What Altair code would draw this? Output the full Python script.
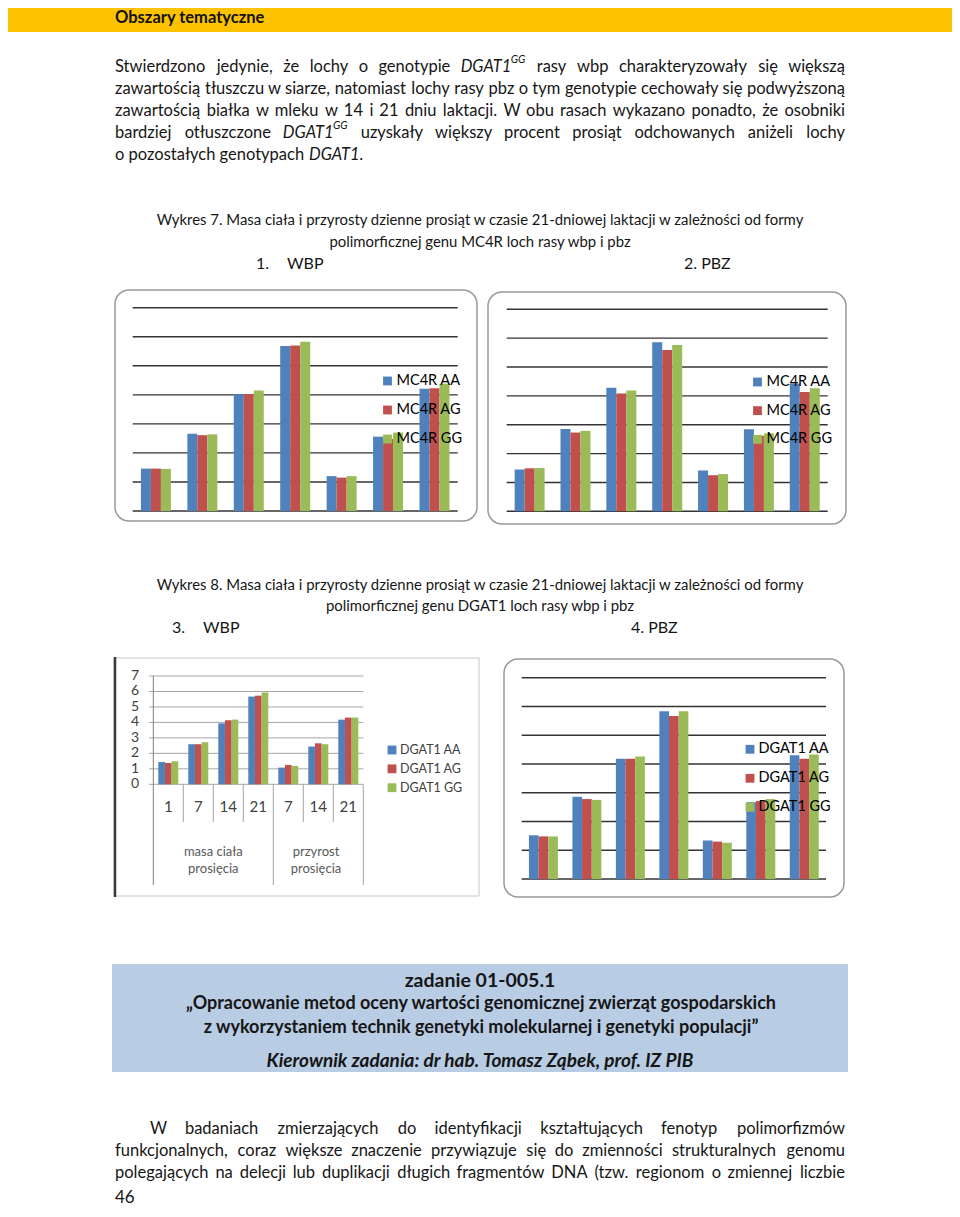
import altair as alt
import pandas as pd

FONT = "Lato"
M = 8                      # page margin
TXT = "#161616"

# ------------------------------------------------------------------ data
group_keys = ["g1", "g2", "g3", "g4", "g5", "g6", "g7"]
day_labels = ["1", "7", "14", "21", "7", "14", "21"]
group_titles = [["masa ciała", "prosięcia"], ["przyrost", "prosięcia"]]
y_ticks = [0, 1, 2, 3, 4, 5, 6, 7]

mc4r_genotypes = ["MC4R AA", "MC4R AG", "MC4R GG"]
dgat1_genotypes = ["DGAT1 AA", "DGAT1 AG", "DGAT1 GG"]
bar_colors = ["#4F81BD", "#C0504D", "#9BBB59"]

# Wykres 7 - 1. WBP (MC4R)
wbp_mc4r_aa = [1.46, 2.66, 4.02, 5.68, 1.20, 2.56, 4.21]
wbp_mc4r_ag = [1.46, 2.61, 4.03, 5.70, 1.15, 2.48, 4.23]
wbp_mc4r_gg = [1.45, 2.64, 4.15, 5.83, 1.20, 2.70, 4.38]
# Wykres 7 - 2. PBZ (MC4R)
pbz_mc4r_aa = [1.45, 2.85, 4.28, 5.86, 1.41, 2.84, 4.43]
pbz_mc4r_ag = [1.49, 2.73, 4.08, 5.59, 1.25, 2.62, 4.13]
pbz_mc4r_gg = [1.50, 2.79, 4.19, 5.76, 1.29, 2.70, 4.26]
# Wykres 8 - 3. WBP (DGAT1)
wbp_dgat1_aa = [1.44, 2.59, 3.94, 5.67, 1.08, 2.44, 4.18]
wbp_dgat1_ag = [1.38, 2.59, 4.14, 5.73, 1.25, 2.65, 4.31]
wbp_dgat1_gg = [1.49, 2.72, 4.18, 5.93, 1.19, 2.59, 4.31]
# Wykres 8 - 4. PBZ (DGAT1)
pbz_dgat1_aa = [1.52, 2.86, 4.18, 5.83, 1.34, 2.67, 4.30]
pbz_dgat1_ag = [1.48, 2.78, 4.18, 5.67, 1.30, 2.71, 4.18]
pbz_dgat1_gg = [1.48, 2.75, 4.26, 5.83, 1.26, 2.78, 4.33]

# ------------------------------------------------------------------ texts
header_text = "Obszary tematyczne"
para1_lines = [
    "Stwierdzono jedynie, że lochy o genotypie ~DGAT1^GG rasy wbp charakteryzowały się większą",
    "zawartością tłuszczu w siarze, natomiast lochy rasy pbz o tym genotypie cechowały się podwyższoną",
    "zawartością białka w mleku w 14 i 21 dniu laktacji. W obu rasach wykazano ponadto, że osobniki",
    "bardziej otłuszczone ~DGAT1^GG uzyskały większy procent prosiąt odchowanych aniżeli lochy",
]
para1_last = ["o pozostałych genotypach", "DGAT1."]
cap7 = ["Wykres 7. Masa ciała i przyrosty dzienne prosiąt w czasie 21-dniowej laktacji w zależności od formy",
        "polimorficznej genu MC4R loch rasy wbp i pbz"]
cap8 = ["Wykres 8.  Masa ciała i przyrosty dzienne prosiąt w czasie 21-dniowej laktacji w zależności od formy",
        "polimorficznej genu DGAT1 loch rasy wbp i pbz"]
box_lines = ["zadanie  01-005.1",
             "„Opracowanie metod oceny wartości genomicznej zwierząt gospodarskich",
             "z wykorzystaniem technik genetyki molekularnej i genetyki populacji”",
             "Kierownik zadania:  dr hab. Tomasz Ząbek, prof. IZ PIB"]
para2_lines = [
    "W badaniach zmierzających do identyfikacji kształtujących fenotyp polimorfizmów",
    "funkcjonalnych, coraz większe znaczenie przywiązuje się do zmienności strukturalnych genomu",
    "polegających na delecji lub duplikacji długich fragmentów DNA (tzw. regionom o zmiennej liczbie",
]
page_number = "46"

# ------------------------------------------------------------------ helpers
WID = {}
for ch, w in zip("abcdefghijklmnopqrstuvwxyz",
                 [.50, .55, .45, .55, .51, .31, .49, .55, .24, .24, .49, .24, .83,
                  .55, .55, .55, .55, .36, .41, .34, .55, .50, .76, .48, .50, .44]):
    WID[ch] = w
for ch, w in zip("ąęóśłżźćń", [.50, .51, .55, .41, .28, .44, .44, .45, .55]):
    WID[ch] = w
for ch, w in zip("ABCDEFGHIJKLMNOPQRSTUVWXYZ",
                 [.68, .63, .66, .73, .57, .54, .71, .74, .28, .38, .64, .50, .88,
                  .75, .78, .60, .78, .62, .53, .58, .72, .67, .99, .64, .61, .60]):
    WID[ch] = w
for ch in "0123456789":
    WID[ch] = .58
WID.update({",": .22, ".": .22, "(": .30, ")": .30, "-": .33, ":": .22})
EST_SCALE = 1.03


def est(s):
    return EST_SCALE * sum(WID.get(c, .5) for c in s)


def parts(tok):
    italic = tok.startswith("~")
    if italic:
        tok = tok[1:]
    sup = ""
    if "^" in tok:
        tok, sup = tok.split("^")
    return tok, sup, italic


def layout(line, x0, x1, y, size):
    items = []
    toks = line.split(" ")
    ps = [parts(t) for t in toks]
    widths = [est(b) * size * (0.9 if s else 1) + (est(s) * size * 0.65 if s else 0) for b, s, _ in ps]
    n = len(toks)
    gap = (x1 - x0 - sum(widths)) / (n - 1)
    x = x0
    for i, ((b, s, it), w) in enumerate(zip(ps, widths)):
        style = "italic" if it else "normal"
        if i == n - 1 and not s:
            items.append(dict(x=x1, y=y, text=b, size=size, style=style, align="right"))
        else:
            items.append(dict(x=x, y=y, text=b, size=size, style=style, align="left"))
            if s:
                items.append(dict(x=x + est(b) * size * 0.9, y=y - 7, text=s,
                                  size=round(size * 0.65, 1), style="italic", align="left"))
        x += w + gap
    return items


def text_layers(items, color=TXT):
    out = []
    keys = sorted({(i["size"], i["style"], i["align"]) for i in items})
    for size, style, align in keys:
        sel = [i for i in items if (i["size"], i["style"], i["align"]) == (size, style, align)]
        df = pd.DataFrame({"x": [i["x"] - M for i in sel], "y": [i["y"] - M for i in sel],
                           "text": [i["text"] for i in sel]})
        out.append(alt.Chart(df).mark_text(align=align, baseline="middle", font=FONT, fontSize=size,
                                           fontStyle=style, color=color)
                   .encode(x=alt.X("x:Q", scale=None, axis=None),
                           y=alt.Y("y:Q", scale=None, axis=None), text="text:N"))
    return out


ONE = pd.DataFrame({"k": [0]})


def rect(x0, x1, y0, y1, **kw):
    return alt.Chart(ONE).mark_rect(**kw).encode(
        x=alt.value(x0 - M), x2=alt.value(x1 - M), y=alt.value(y0 - M), y2=alt.value(y1 - M))


def rule(x0, x1, y0, y1, **kw):
    return alt.Chart(ONE).mark_rule(**kw).encode(
        x=alt.value(x0 - M), x2=alt.value(x1 - M), y=alt.value(y0 - M), y2=alt.value(y1 - M))


def label(s, x, y, size, align="left", weight="normal", style="normal", color=TXT):
    return alt.Chart(ONE).mark_text(text=s, align=align, baseline="middle", font=FONT, fontSize=size,
                                    fontWeight=weight, fontStyle=style, color=color).encode(
        x=alt.value(x - M), y=alt.value(y - M))


def long_df(genos, series):
    rows = []
    for g, vals in zip(genos, series):
        for k, v in zip(group_keys, vals):
            rows.append({"key": k, "genotype": g, "value": v})
    return pd.DataFrame(rows)


def panel(genos, series, xr, yr, pad_inner, off_outer, grid_color, grid_w, grid_x0,
          leg_x, leg_y, leg_size, leg_color, leg_dx):
    df = long_df(genos, series)
    xs = alt.Scale(domain=group_keys, range=[xr[0] - M, xr[1] - M],
                   paddingInner=pad_inner, paddingOuter=pad_inner / 2)
    ys = alt.Scale(domain=[0, 7], range=[yr[0] - M, yr[1] - M], nice=False, zero=True)
    cs = alt.Scale(domain=genos, range=bar_colors)
    grid = alt.Chart(pd.DataFrame({"t": y_ticks})).mark_rule(color=grid_color, strokeWidth=grid_w).encode(
        y=alt.Y("t:Q", scale=ys, axis=None), x=alt.value(grid_x0 - M), x2=alt.value(xr[1] - M))
    bars = alt.Chart(df).mark_bar().encode(
        x=alt.X("key:N", scale=xs, axis=None, sort=group_keys),
        xOffset=alt.XOffset("genotype:N", sort=genos,
                            scale=alt.Scale(domain=genos, paddingInner=0, paddingOuter=off_outer)),
        y=alt.Y("value:Q", scale=ys, axis=None),
        color=alt.Color("genotype:N", scale=cs, legend=None))
    ldf = pd.DataFrame({"genotype": genos})
    lys = alt.Scale(type="point", domain=genos, range=[leg_y[0] - M, leg_y[1] - M], padding=0)
    sq = alt.Chart(ldf).mark_square(size=78, opacity=1).encode(
        x=alt.value(leg_x - M), y=alt.Y("genotype:N", scale=lys, axis=None),
        color=alt.Color("genotype:N", scale=cs, legend=None))
    lt = alt.Chart(ldf).mark_text(align="left", baseline="middle", font=FONT, fontSize=leg_size,
                                  color=leg_color).encode(
        x=alt.value(leg_x + leg_dx - M), y=alt.Y("genotype:N", scale=lys, axis=None), text="genotype:N")
    return grid, bars, sq, lt, xs, ys


PARA = 16.5
CAP = 14.9

layers = []

# header band
layers.append(rect(0, 960, 0, 32, fill="#FDC300"))
layers.append(label(header_text, 115, 18, 16.5, weight="bold", color="#111"))

# paragraph 1
items = []
for i, ln in enumerate(para1_lines):
    items += layout(ln, 115, 845, 67 + 22 * i, PARA)
layers += text_layers(items)
layers.append(label(para1_last[0], 115, 155, PARA))
layers.append(label(para1_last[1], 309, 155, PARA, style="italic"))

# captions Wykres 7
layers.append(label(cap7[0], 480, 221, CAP, align="center"))
layers.append(label(cap7[1], 480, 243, CAP, align="center"))
layers.append(label("1.", 256, 264, 16))
layers.append(label("WBP", 287, 264, 16))
layers.append(label("2. PBZ", 684, 264, 16))

# captions Wykres 8
layers.append(label(cap8[0], 480, 586, CAP, align="center"))
layers.append(label(cap8[1], 480, 607, CAP, align="center"))
layers.append(label("3.", 172, 628, 16))
layers.append(label("WBP", 203, 628, 16))
layers.append(label("4. PBZ", 631, 628, 16))

# chart frames
layers.append(rect(115, 477, 290, 521, fill="white", stroke="#9A9A9A", strokeWidth=1.5, cornerRadius=14))
layers.append(rect(488, 846, 292, 524, fill="white", stroke="#9A9A9A", strokeWidth=1.5, cornerRadius=14))
layers.append(rect(504, 844, 659, 897, fill="white", stroke="#9A9A9A", strokeWidth=1.5, cornerRadius=14))
layers.append(rect(114, 479, 658, 896, fill="white", stroke="#C8C8C8", strokeWidth=1))
layers.append(rule(115, 115, 657, 897, color="#3A3A3A", strokeWidth=2.5))

# chart 1: WBP MC4R
g, b, s, t, _, _ = panel(mc4r_genotypes, [wbp_mc4r_aa, wbp_mc4r_ag, wbp_mc4r_gg],
                         (132.7, 457.7), (511, 307.7), 0.354, 0, "#333333", 1.4, 132.7,
                         387.5, (381, 439), 14.5, "#000", 9)
layers += [g, b]
chart1_leg = [s, t]

# chart 2: PBZ MC4R
g, b, s, t, _, _ = panel(mc4r_genotypes, [pbz_mc4r_aa, pbz_mc4r_ag, pbz_mc4r_gg],
                         (506.7, 827.7), (511.3, 309.3), 0.346, 0, "#333333", 1.4, 506.7,
                         757.5, (382, 439.3), 14.5, "#000", 9)
layers += [g, b]
chart2_leg = [s, t]

# chart 4: PBZ DGAT1
g, b, s, t, _, _ = panel(dgat1_genotypes, [pbz_dgat1_aa, pbz_dgat1_ag, pbz_dgat1_gg],
                         (521.7, 826), (879, 677.7), 0.333, 0, "#333333", 1.4, 521.7,
                         750, (749.3, 807.3), 14.5, "#000", 8.5)
layers += [g, b]
chart4_leg = [s, t]

# chart 3: WBP DGAT1 (pasted-image style with axes)
g, b, s, t, xs3, ys3 = panel(dgat1_genotypes, [wbp_dgat1_aa, wbp_dgat1_ag, wbp_dgat1_gg],
                             (153.3, 363.3), (784.3, 676), 0.0, 0.75, "#A6A6A6", 1, 149,
                             392, (750, 787.7), 12.5, "#404040", 8)
layers += [g]
ticks_df = pd.DataFrame({"t": y_ticks, "lab": [str(v) for v in y_ticks]})
layers.append(alt.Chart(ticks_df).mark_text(align="center", baseline="middle", font=FONT, fontSize=14,
                                            color="#404040").encode(
    x=alt.value(135 - M), y=alt.Y("t:Q", scale=ys3, axis=None), text="lab:N"))
layers.append(b)
cat_df = pd.DataFrame({"key": group_keys, "lab": day_labels})
layers.append(alt.Chart(cat_df).mark_text(baseline="middle", font=FONT, fontSize=15, color="#404040").encode(
    x=alt.X("key:N", scale=xs3, axis=None, sort=group_keys), y=alt.value(807 - M), text="lab:N"))
inner_df = pd.DataFrame({"key": ["g2", "g3", "g4", "g6", "g7"]})
layers.append(alt.Chart(inner_df).mark_rule(color="#A6A6A6", strokeWidth=1).encode(
    x=alt.X("key:N", scale=xs3, axis=None, sort=group_keys, bandPosition=0),
    y=alt.value(784.3 - M), y2=alt.value(822 - M)))
outer_df = pd.DataFrame({"key": ["g5"]})
layers.append(alt.Chart(outer_df).mark_rule(color="#A6A6A6", strokeWidth=1).encode(
    x=alt.X("key:N", scale=xs3, axis=None, sort=group_keys, bandPosition=0),
    y=alt.value(784.3 - M), y2=alt.value(885 - M)))
end_df = pd.DataFrame({"key": ["g7"]})
layers.append(alt.Chart(end_df).mark_rule(color="#A6A6A6", strokeWidth=1).encode(
    x=alt.X("key:N", scale=xs3, axis=None, sort=group_keys, bandPosition=1),
    y=alt.value(784.3 - M), y2=alt.value(885 - M)))
layers.append(rule(153.3, 153.3, 676, 885, color="#808080", strokeWidth=1))
layers.append(label(group_titles[0][0], 213.3, 852, 13, align="center", color="#595959"))
layers.append(label(group_titles[0][1], 213.3, 869, 13, align="center", color="#595959"))
layers.append(label(group_titles[1][0], 316, 852, 13, align="center", color="#595959"))
layers.append(label(group_titles[1][1], 316, 869, 13, align="center", color="#595959"))
layers += [s, t]

layers += chart1_leg + chart2_leg + chart4_leg

# blue task box
layers.append(rect(112, 848, 964, 1072, fill="#B8CCE4"))
layers.append(label(box_lines[0], 480, 981, 19.5, align="center", weight="bold"))
layers.append(label(box_lines[1], 481, 1004, 18, align="center", weight="bold"))
layers.append(label(box_lines[2], 481, 1028, 18, align="center", weight="bold"))
layers.append(label(box_lines[3], 480, 1061, 19, align="center", weight="bold", style="italic"))

# paragraph 2
items = []
items += layout(para2_lines[0], 150, 845, 1129, PARA)
items += layout(para2_lines[1], 115, 845, 1151, PARA)
items += layout(para2_lines[2], 115, 845, 1173, PARA)
layers += text_layers(items)
layers.append(label(page_number, 115, 1198, 17))

chart = alt.layer(*layers).resolve_scale(
    x="independent", y="independent", color="independent", xOffset="independent"
).properties(
    width=944, height=1201, padding=0, autosize=alt.AutoSizeParams(type="none"), background="white"
).configure_view(stroke=None)

chart.save("out.html", embed_options={"renderer": "svg", "actions": False})
